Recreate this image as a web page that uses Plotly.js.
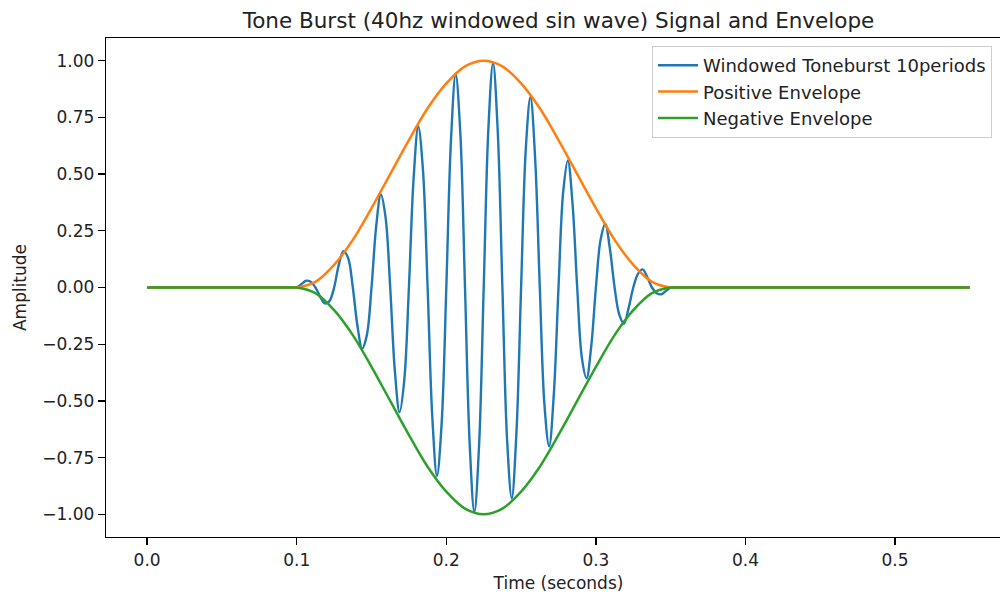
<!DOCTYPE html>
<html>
<head>
<meta charset="utf-8">
<script src="https://cdn.plot.ly/plotly-3.0.1.min.js"></script>
<style>
  html, body { margin: 0; padding: 0; background: #ffffff; overflow: hidden; width: 1000px; height: 595px; }
  #chart { width: 1020px; height: 595px; }
</style>
</head>
<body>
<div id="chart"></div>
<script>
// ---- Data ----
// Windowed tone burst: flat baseline, then the 40 Hz burst (zero crossings, peaks, and points between them)
var signalTime = [0, 0.05, 0.09, 0.0975, 0.1,
  0.103125, 0.10625, 0.109375, 0.1125, 0.115625, 0.11875, 0.121875, 0.125,
  0.128125, 0.13125, 0.134375, 0.1375, 0.140625, 0.14375, 0.146875, 0.15,
  0.153125, 0.15625, 0.159375, 0.1625, 0.165625, 0.16875, 0.171875, 0.175,
  0.178125, 0.18125, 0.184375, 0.1875, 0.190625, 0.19375, 0.196875, 0.2,
  0.203125, 0.20625, 0.209375, 0.2125, 0.215625, 0.21875, 0.221875, 0.225,
  0.228125, 0.23125, 0.234375, 0.2375, 0.240625, 0.24375, 0.246875, 0.25,
  0.253125, 0.25625, 0.259375, 0.2625, 0.265625, 0.26875, 0.271875, 0.275,
  0.278125, 0.28125, 0.284375, 0.2875, 0.290625, 0.29375, 0.296875, 0.3,
  0.303125, 0.30625, 0.309375, 0.3125, 0.315625, 0.31875, 0.321875, 0.325,
  0.328125, 0.33125, 0.334375, 0.3375, 0.340625, 0.34375, 0.346875, 0.35,
  0.3525, 0.36, 0.45, 0.55];
var signalValues = [0, 0, 0, 0, 0,
  0.015, 0.03, 0.025, 0, -0.04, -0.07, -0.06, 0,
  0.10, 0.16, 0.13, 0, -0.17, -0.27, -0.21, 0,
  0.27, 0.41, 0.31, 0, -0.37, -0.55, -0.41, 0,
  0.48, 0.71, 0.52, 0, -0.57, -0.83, -0.60, 0,
  0.65, 0.94, 0.68, 0, -0.69, -0.99, -0.70, 0,
  0.70, 0.99, 0.69, 0, -0.67, -0.93, -0.64, 0,
  0.61, 0.84, 0.57, 0, -0.52, -0.70, -0.47, 0,
  0.42, 0.56, 0.37, 0, -0.31, -0.40, -0.26, 0,
  0.21, 0.28, 0.17, 0, -0.12, -0.16, -0.09, 0,
  0.06, 0.08, 0.045, 0, -0.025, -0.03, -0.015, 0,
  0, 0, 0, 0];

// Envelopes
var envTime = [0, 0.05, 0.09, 0.0975, 0.1, 0.1125, 0.125, 0.1375, 0.15, 0.1625, 0.175, 0.1875, 0.2, 0.2125,
  0.225, 0.2375, 0.25, 0.2625, 0.275, 0.2875, 0.3, 0.3125, 0.325, 0.3375, 0.35, 0.3525, 0.36, 0.45, 0.55];
var posEnvelope = [0, 0, 0, 0, 0, 0.025, 0.10, 0.21, 0.35, 0.50, 0.65, 0.79, 0.90, 0.975,
  1.0, 0.975, 0.90, 0.79, 0.65, 0.50, 0.35, 0.21, 0.10, 0.025, 0, 0, 0, 0, 0];
var negEnvelope = [0, 0, 0, 0, 0, -0.025, -0.10, -0.21, -0.35, -0.50, -0.65, -0.79, -0.90, -0.975,
  -1.0, -0.975, -0.90, -0.79, -0.65, -0.50, -0.35, -0.21, -0.10, -0.025, 0, 0, 0, 0, 0];

var seriesNames = ['Windowed Toneburst 10periods', 'Positive Envelope', 'Negative Envelope'];
var xTickVals = [0.0, 0.1, 0.2, 0.3, 0.4, 0.5];
var yTickVals = [-1.0, -0.75, -0.5, -0.25, 0.0, 0.25, 0.5, 0.75, 1.0];

var FONT = 'DejaVu Sans, Verdana, sans-serif';

var traces = [
  { x: signalTime, y: signalValues, name: seriesNames[0], type: 'scatter', mode: 'lines',
    line: { color: '#1f77b4', width: 2.4, shape: 'spline', smoothing: 1 } },
  { x: envTime, y: posEnvelope, name: seriesNames[1], type: 'scatter', mode: 'lines',
    line: { color: '#ff7f0e', width: 2.5, shape: 'spline', smoothing: 1 } },
  { x: envTime, y: negEnvelope, name: seriesNames[2], type: 'scatter', mode: 'lines',
    line: { color: '#2ca02c', width: 2.5, shape: 'spline', smoothing: 1 } }
];

var layout = {
  width: 1020, height: 595,
  margin: { l: 106, r: 9, t: 38, b: 58, pad: 0 },
  paper_bgcolor: '#ffffff', plot_bgcolor: '#ffffff',
  font: { family: FONT, size: 17, color: '#222222' },
  title: { text: 'Tone Burst (40hz windowed sin wave) Signal and Envelope',
    font: { family: FONT, size: 21.5, color: '#222222' },
    x: 0.5, xref: 'paper', xanchor: 'center',
    y: 1 - 20 / 595, yref: 'container', yanchor: 'middle' },
  xaxis: {
    range: [-0.0275, 0.5775], tickvals: xTickVals, tickformat: '.1f',
    showgrid: false, zeroline: false,
    showline: true, mirror: true, linecolor: '#000000', linewidth: 1.3,
    ticks: 'outside', ticklen: 7, tickwidth: 1.3, tickcolor: '#000000',
    tickfont: { family: FONT, size: 17, color: '#222222' },
    title: { text: 'Time (seconds)', font: { family: FONT, size: 17, color: '#222222' }, standoff: 8 },
    automargin: false
  },
  yaxis: {
    range: [-1.1, 1.1], tickvals: yTickVals, tickformat: '.2f',
    showgrid: false, zeroline: false,
    showline: true, mirror: true, linecolor: '#000000', linewidth: 1.3,
    ticks: 'outside', ticklen: 7, tickwidth: 1.3, tickcolor: '#000000',
    tickfont: { family: FONT, size: 17, color: '#222222' },
    title: { text: 'Amplitude', font: { family: FONT, size: 17, color: '#222222' }, standoff: 11 },
    automargin: false
  },
  showlegend: true,
  legend: {
    x: (652 - 106) / 905, y: (537 - 46) / 499, xanchor: 'left', yanchor: 'top',
    bgcolor: 'rgba(255,255,255,0.8)', bordercolor: '#cccccc', borderwidth: 1,
    font: { family: FONT, size: 18, color: '#222222' },
    itemwidth: 40, traceorder: 'normal'
  }
};

Plotly.newPlot('chart', traces, layout, { displayModeBar: false, staticPlot: true });
</script>
</body>
</html>
